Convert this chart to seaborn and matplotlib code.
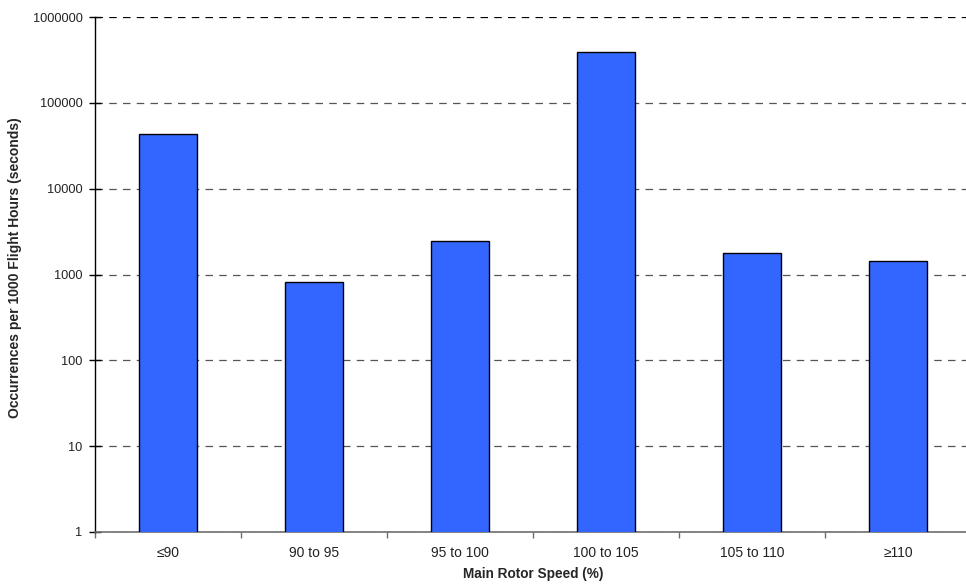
import matplotlib
matplotlib.use("Agg")
import matplotlib.pyplot as plt
import seaborn as sns
import pandas as pd
from matplotlib.ticker import FixedLocator, NullLocator

# Main rotor speed bands and time spent in each band
speed_bands = ["\u226490", "90 to 95", "95 to 100", "100 to 105", "105 to 110", "\u2265110"]
occurrences = [43750, 822, 2470, 396000, 1770, 1445]

y_ticks = [1, 10, 100, 1000, 10000, 100000, 1000000]
y_tick_labels = ["1", "10", "100", "1000", "10000", "100000", "1000000"]

df = pd.DataFrame({"band": speed_bands, "occ": occurrences})

sns.set_theme(style="white")
plt.rcParams["font.family"] = ["Liberation Sans", "DejaVu Sans"]

fig = plt.figure(figsize=(9.66, 5.85), dpi=100)
ax = fig.add_axes([95 / 966, 1 - 532 / 585, 876 / 966, (532 - 17) / 585])

sns.barplot(data=df, x="band", y="occ", color="#3366FF", saturation=1,
            width=0.4, edgecolor="black", linewidth=1.0, ax=ax, zorder=3)

ax.set_yscale("log")
ax.set_ylim(1, 1000000)
ax.set_xlim(-0.5, 5.5)
ax.yaxis.set_major_locator(FixedLocator(y_ticks))
ax.yaxis.set_minor_locator(NullLocator())
ax.set_yticklabels(y_tick_labels)

# dashed horizontal gridlines behind the bars
ax.set_axisbelow(True)
ax.grid(axis="y", linestyle=(0, (6, 5)), color="#555555", linewidth=0.9)
ax.grid(axis="x", visible=False)
gl = ax.yaxis.get_gridlines()
gl[-1].set_color("black")

for side in ["top", "right"]:
    ax.spines[side].set_visible(False)
ax.spines["left"].set_color("black")
ax.spines["left"].set_linewidth(1.0)
ax.spines["bottom"].set_color("#6e6e6e")
ax.spines["bottom"].set_linewidth(1.2)

# category separators on the x axis
ax.set_xticks([i - 0.5 for i in range(len(speed_bands) + 1)], minor=True)
ax.tick_params(axis="x", which="minor", direction="out", length=4, width=1.0,
               color="#6e6e6e", bottom=True)
ax.tick_params(axis="x", which="major", length=0, pad=10, labelsize=10, colors="#222222")
ax.tick_params(axis="y", which="major", direction="inout", length=8, width=1.0,
               color="black", left=True, pad=5, labelsize=9.2, labelcolor="#222222")

ax.set_xlabel("Main Rotor Speed (%)", fontsize=9.8, fontweight="bold", labelpad=5)
ax.set_ylabel("Occurrences per 1000 Flight Hours (seconds)", fontsize=10,
              fontweight="bold")
ax.yaxis.set_label_coords(-0.0833, 0.5126)

fig.savefig("out.png", dpi=100)
